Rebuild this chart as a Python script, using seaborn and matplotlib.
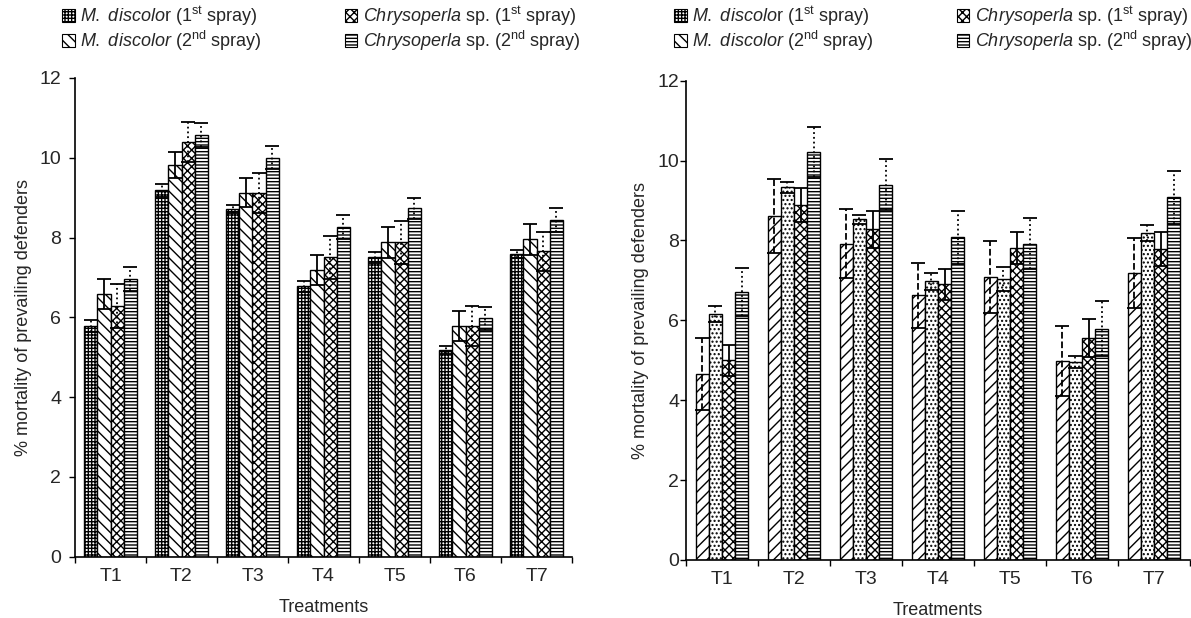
import numpy as np
import pandas as pd
import matplotlib
matplotlib.use("Agg")
import matplotlib.pyplot as plt
import seaborn as sns
from matplotlib.patches import Patch
from matplotlib import font_manager

# ---------------- data ----------------
treatments = ["T1", "T2", "T3", "T4", "T5", "T6", "T7"]
series_keys = ["md1", "md2", "ch1", "ch2"]
series_labels = [
    r"$\mathit{M.\ discolo}$r (1$^{\mathrm{st}}$ spray)",
    r"$\mathit{M.\ discolor}$ (2$^{\mathrm{nd}}$ spray)",
    r"$\mathit{Chrysoperla}$ sp. (1$^{\mathrm{st}}$ spray)",
    r"$\mathit{Chrysoperla}$ sp. (2$^{\mathrm{nd}}$ spray)",
]

# left panel
left_md1 = [5.78, 9.18, 8.71, 6.78, 7.50, 5.19, 7.58]
left_md2 = [6.58, 9.82, 9.12, 7.19, 7.88, 5.78, 7.95]
left_ch1 = [6.28, 10.40, 9.12, 7.50, 7.88, 5.78, 7.65]
left_ch2 = [6.97, 10.58, 10.00, 8.27, 8.73, 5.97, 8.45]
left_md1_err = [0.15, 0.16, 0.10, 0.14, 0.13, 0.10, 0.10]
left_md2_err = [0.38, 0.33, 0.36, 0.38, 0.39, 0.37, 0.38]
left_ch1_err = [0.55, 0.50, 0.50, 0.54, 0.54, 0.50, 0.50]
left_ch2_err = [0.30, 0.30, 0.29, 0.30, 0.26, 0.28, 0.30]

# right panel
right_md1 = [4.65, 8.61, 7.92, 6.63, 7.08, 4.98, 7.19]
right_md2 = [6.17, 9.33, 8.53, 6.98, 7.04, 4.96, 8.18]
right_ch1 = [5.00, 8.89, 8.28, 6.90, 7.81, 5.56, 7.79]
right_ch2 = [6.71, 10.21, 9.40, 8.08, 7.92, 5.79, 9.08]
right_md1_err = [0.90, 0.92, 0.87, 0.81, 0.90, 0.87, 0.88]
right_md2_err = [0.20, 0.14, 0.12, 0.21, 0.30, 0.15, 0.20]
right_ch1_err = [0.39, 0.43, 0.47, 0.39, 0.40, 0.48, 0.43]
right_ch2_err = [0.60, 0.62, 0.64, 0.67, 0.64, 0.69, 0.67]

y_ticks = [0, 2, 4, 6, 8, 10, 12]
x_label = "Treatments"
y_label = "% mortality of prevailing defenders"

# ---------------- style ----------------
sns.set_theme(style="ticks")
names = {f.name for f in font_manager.fontManager.ttflist}
base_font = "Liberation Sans Narrow" if "Liberation Sans Narrow" in names else "Liberation Sans"
plt.rcParams["font.family"] = [base_font, "DejaVu Sans"]
plt.rcParams["mathtext.fontset"] = "custom"
plt.rcParams["mathtext.rm"] = base_font
plt.rcParams["mathtext.it"] = base_font + ":italic"
plt.rcParams["mathtext.bf"] = base_font + ":bold"
plt.rcParams["hatch.linewidth"] = 1.0
plt.rcParams["hatch.color"] = "black"

TICK_FS = 14
LAB_FS = 13
LEG_FS = 13

W, H = 1191, 618
fig = plt.figure(figsize=(W / 100, H / 100), dpi=100)
ax_l = fig.add_axes([75 / W, 1 - 556.7 / H, (572 - 75) / W, (556.7 - 77.9) / H])
ax_r = fig.add_axes([686 / W, 1 - 560 / H, (1190 - 686) / W, (560 - 80.7) / H])


def make_df(vals):
    rows = []
    for key, v in zip(series_keys, vals):
        for t, val in zip(treatments, v):
            rows.append({"Treatment": t, "Series": key, "Value": val})
    return pd.DataFrame(rows)


def draw(ax, vals, errs, hatches, err_styles, width, ylab_pad, labelpad):
    df = make_df(vals)
    sns.barplot(data=df, x="Treatment", y="Value", hue="Series", hue_order=series_keys,
                order=treatments, palette=["white"] * 4, saturation=1, edgecolor="black",
                linewidth=1.0, width=width, errorbar=None, legend=False, gap=0, ax=ax)
    for cont, h, e, ls in zip(ax.containers, hatches, errs, err_styles):
        xs, ys = [], []
        for bar in cont:
            bar.set_hatch(h)
            bar.set_facecolor("white")
            bar.set_edgecolor("black")
            xs.append(bar.get_x() + bar.get_width() / 2)
            ys.append(bar.get_height())
        eb = ax.errorbar(xs, ys, yerr=e, fmt="none", ecolor="black", elinewidth=1.3,
                         capsize=5, capthick=1.3, zorder=5)
        for lc in eb[2]:
            lc.set_linestyle(ls)
    ax.set_xlim(-0.5, len(treatments) - 0.5)
    ax.set_ylim(0, 12)
    ax.set_yticks(y_ticks)
    ax.set_yticklabels([str(t) for t in y_ticks], fontsize=TICK_FS)
    ax.set_xticks(range(len(treatments)))
    ax.set_xticklabels(treatments, fontsize=TICK_FS)
    ax.set_xticks(np.arange(-0.5, len(treatments)), minor=True)
    ax.tick_params(axis="x", which="major", length=0, pad=8)
    ax.tick_params(axis="x", which="minor", length=4, width=1, direction="out", color="black")
    ax.tick_params(axis="y", which="major", length=4, width=1, direction="out", color="black",
                   pad=ylab_pad)
    ax.set_xlabel(x_label, fontsize=LAB_FS, labelpad=10)
    ax.set_ylabel(y_label, fontsize=LAB_FS, labelpad=labelpad)
    for s in ["top", "right"]:
        ax.spines[s].set_visible(False)
    for s in ["left", "bottom"]:
        ax.spines[s].set_color("black")
        ax.spines[s].set_linewidth(1.2)
    ax.grid(False)


left_hatches = ["+++++", "\\\\\\", "xxxx", "-----"]
right_hatches = ["///", "....", "xxxx", "-----"]

draw(ax_l, [left_md1, left_md2, left_ch1, left_ch2],
     [left_md1_err, left_md2_err, left_ch1_err, left_ch2_err],
     left_hatches, [":", "-", ":", ":"], 0.746, 6, 5)
draw(ax_r, [right_md1, right_md2, right_ch1, right_ch2],
     [right_md1_err, right_md2_err, right_ch1_err, right_ch2_err],
     right_hatches, ["--", ":", "-", ":"], 0.736, 1, 6)

handles = [Patch(facecolor="white", edgecolor="black", hatch=h, label=l, linewidth=0.8)
           for h, l in zip(left_hatches, series_labels)]

for x0 in (62 / W, 674 / W):
    fig.legend(handles=handles, ncol=2, loc="upper left", bbox_to_anchor=(x0, 1 - 4 / H),
               frameon=False, fontsize=LEG_FS, handlelength=0.7, handleheight=0.7,
               handletextpad=0.3, columnspacing=4.6, labelspacing=0.05,
               borderpad=0, borderaxespad=0)

fig.savefig("out.png", dpi=100)
